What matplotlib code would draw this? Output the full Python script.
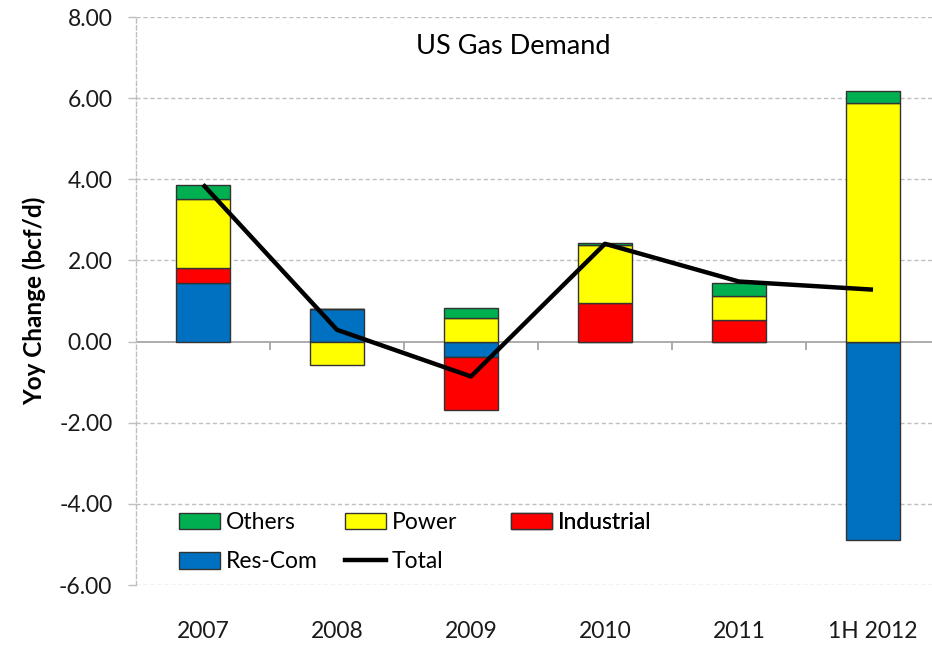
import matplotlib
matplotlib.use("Agg")
import matplotlib.pyplot as plt
import numpy as np
from matplotlib.patches import Patch
from matplotlib.lines import Line2D

plt.rcParams['font.family'] = ['Lato', 'DejaVu Sans']

categories = ["2007", "2008", "2009", "2010", "2011", "1H 2012"]
res_com = [1.44, 0.81, -0.37, -0.02, -0.02, -4.90]
industrial = [0.38, 0.00, -1.31, 0.94, 0.53, 0.00]
power = [1.70, -0.57, 0.57, 1.45, 0.60, 5.89]
others = [0.33, 0.00, 0.26, 0.03, 0.32, 0.28]
total = [3.87, 0.29, -0.86, 2.41, 1.48, 1.28]

colors = {"Res-Com": "#0070C0", "Industrial": "#FF0000",
          "Power": "#FFFF00", "Others": "#00B050"}
series = [("Res-Com", res_com), ("Industrial", industrial),
          ("Power", power), ("Others", others)]

W, H = 932, 645
fig = plt.figure(figsize=(W / 100, H / 100), dpi=100)
ax = fig.add_axes([136 / W, 1 - 585 / H, (940 - 136) / W, (585 - 17) / H])

x = np.arange(len(categories))
pos_base = np.zeros(len(categories))
neg_base = np.zeros(len(categories))
for name, vals in series:
    v = np.array(vals)
    bottoms = np.where(v >= 0, pos_base, neg_base)
    ax.bar(x, v, 0.4, bottom=bottoms, color=colors[name], edgecolor="#333333",
           linewidth=1.0, zorder=3)
    pos_base = pos_base + np.where(v >= 0, v, 0)
    neg_base = neg_base + np.where(v < 0, v, 0)

ax.plot(x, total, color="black", linewidth=3.2, zorder=4,
        solid_capstyle="butt")

ax.set_xlim(-0.5, len(categories) - 0.5)
ax.set_ylim(-6, 8)
yt = np.arange(-6, 8.01, 2)
ax.set_yticks(yt)
ax.set_yticklabels([f"{v:.2f}" for v in yt])
for v in yt:
    if v != 0:
        ax.axhline(v, color="#BFBFBF", linestyle=(0, (3, 2)), linewidth=1.0, zorder=1)
ax.axhline(0, color="#A6A6A6", linewidth=1.3, zorder=2)
# category boundary tick marks on the zero line
ax.vlines(np.arange(0.5, len(categories) - 0.5, 1.0), -0.22, 0,
          color="#A6A6A6", linewidth=1.3, zorder=2)

for s in ["top", "right", "bottom"]:
    ax.spines[s].set_visible(False)
ax.spines["left"].set_color("#BFBFBF")
ax.spines["left"].set_linestyle((0, (3, 2)))
ax.spines["left"].set_linewidth(1.0)

ax.set_xticks(x)
ax.set_xticklabels(categories)
ax.tick_params(axis="x", length=0, pad=26, labelsize=16.5, labelcolor="#1a1a1a")
ax.tick_params(axis="y", length=6, width=1.0, color="#BFBFBF", pad=11,
               labelsize=16.5, labelcolor="#1a1a1a")

ax.set_ylabel("Yoy Change (bcf/d)", fontsize=17.5, fontweight="bold")
ax.yaxis.set_label_coords((46 - 136) / (940 - 136), 0.5)

ax.text((513 - 136) / (940 - 136), (585 - 46) / 568, "US Gas Demand",
        transform=ax.transAxes, ha="center", va="center", fontsize=19.5)

def patch(name):
    return Patch(facecolor=colors[name], edgecolor="#333333", label=name)

columns = [
    ([patch("Others"), patch("Res-Com")], 179),
    ([patch("Power"), Line2D([0], [0], color="black", linewidth=3.2, label="Total")], 345),
    ([patch("Industrial")], 511),
]
for hs, xpix in columns:
    leg = ax.legend(handles=hs, loc="upper left",
                    bbox_to_anchor=((xpix - 136) / 804, (585 - 512) / 568),
                    frameon=False, fontsize=16.5, handlelength=1.8,
                    handleheight=0.75, handletextpad=0.25, labelspacing=0.8,
                    borderaxespad=0, borderpad=0)
    ax.add_artist(leg)

fig.savefig("out.png", dpi=100)
